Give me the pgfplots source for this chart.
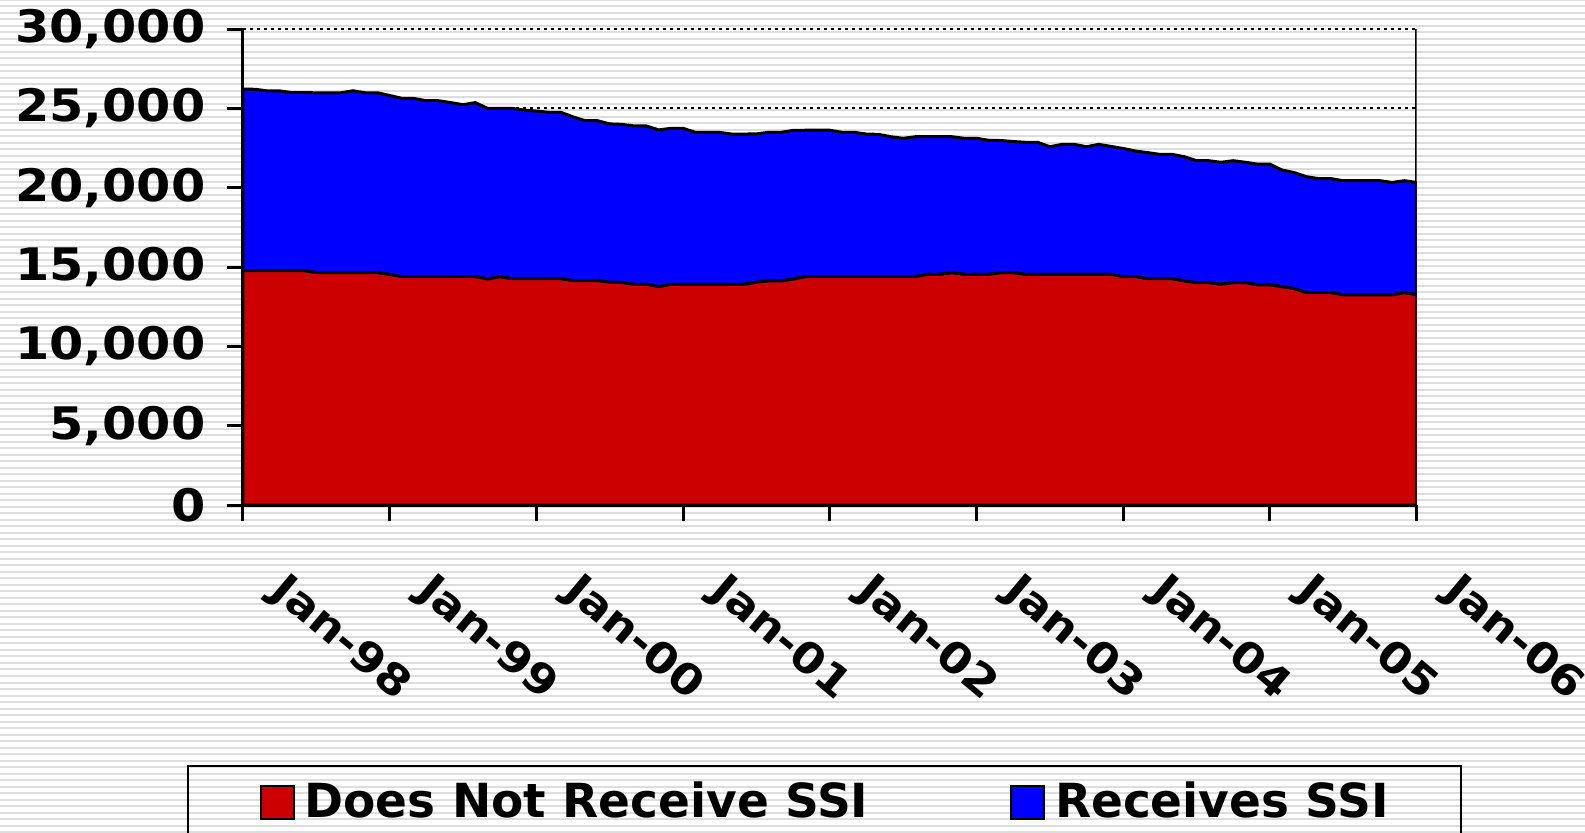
\documentclass[border=0pt]{standalone}
\usepackage{fontspec}
\usepackage{pgfplots}
\pgfplotsset{compat=1.18}
\usepackage{pgfplotstable}
\newfontfamily\tickfont{DejaVu Sans}[FakeStretch=1.1]
\newfontfamily\legfont{DejaVu Sans}
\definecolor{nossi}{HTML}{CC0000}
\definecolor{ssi}{HTML}{0000FF}
\definecolor{stripe}{HTML}{DDDDDD}

% monthly caseload, Jan-98 (m=0) to Jan-06 (m=96)
\pgfplotstableread{
m nossi ssi
0 14770 11450
1 14770 11430
2 14770 11330
3 14770 11330
4 14770 11220
5 14770 11220
6 14640 11340
7 14640 11340
8 14640 11340
9 14640 11470
10 14640 11340
11 14640 11340
12 14530 11280
13 14390 11240
14 14390 11230
15 14390 11090
16 14390 11090
17 14390 10970
18 14390 10840
19 14390 10970
20 14240 10760
21 14390 10610
22 14260 10740
23 14260 10630
24 14260 10570
25 14260 10490
26 14260 10490
27 14140 10320
28 14140 10080
29 14140 10080
30 14040 9980
31 14020 9970
32 13910 9980
33 13910 9980
34 13760 9880
35 13910 9830
36 13910 9830
37 13910 9580
38 13910 9580
39 13910 9570
40 13910 9470
41 13910 9470
42 14040 9350
43 14120 9370
44 14120 9370
45 14240 9370
46 14390 9230
47 14390 9230
48 14390 9230
49 14390 9100
50 14390 9100
51 14390 8990
52 14390 8970
53 14390 8820
54 14390 8720
55 14390 8820
56 14540 8670
57 14540 8670
58 14640 8570
59 14540 8570
60 14540 8570
61 14540 8450
62 14640 8330
63 14640 8270
64 14540 8320
65 14540 8320
66 14540 8040
67 14540 8190
68 14540 8190
69 14540 8040
70 14540 8190
71 14540 8060
72 14390 8080
73 14390 7920
74 14260 7950
75 14260 7840
76 14260 7840
77 14120 7830
78 14010 7690
79 14010 7690
80 13910 7690
81 14010 7690
82 14010 7590
83 13870 7610
84 13870 7610
85 13760 7350
86 13630 7320
87 13380 7310
88 13380 7190
89 13380 7190
90 13250 7190
91 13250 7190
92 13250 7190
93 13250 7190
94 13250 7080
95 13380 7060
96 13250 7080
}\ssidata

\begin{document}
\begin{tikzpicture}
\useasboundingbox (0,0) rectangle (396.25pt,-208.25pt);
% striped slide background
\foreach \i in {0,...,128}
  \draw[stripe, line width=0.5pt] (0pt,{-\i*1.625pt}) -- (396.25pt,{-\i*1.625pt});
\begin{axis}[
    at={(60.75pt,-126.25pt)}, anchor=south west,
    scale only axis, width=293.4pt, height=119pt,
    xmin=0, xmax=96, ymin=0, ymax=30000,
    stack plots=y,
    axis x line*=bottom, axis y line*=left,
    axis line style={line width=0.75pt, -},
    tick align=outside, major tick length=4pt,
    every tick/.style={black, line width=0.75pt},
    xtick pos=left, ytick pos=left,
    xtick={0,12,...,96},
    xticklabels={Jan-98,Jan-99,Jan-00,Jan-01,Jan-02,Jan-03,Jan-04,Jan-05,Jan-06},
    ytick={0,5000,...,30000},
    scaled y ticks=false,
    /pgf/number format/assume math mode=true,
    yticklabel style={font=\tickfont\bfseries\fontsize{11.2}{13}\selectfont,
      anchor=east, inner sep=0pt, xshift=-5.2pt},
    xticklabel style={font=\tickfont\bfseries\fontsize{10.6}{13}\selectfont,
      xshift=11.5pt, yshift=-12pt, rotate=-40, anchor=north west, inner sep=0pt},
    ymajorgrids,
    grid style={black, line width=0.5pt, dash pattern=on 0.75pt off 1pt},
    legend columns=2,
    legend cell align=left,
    legend image code/.code={\draw[#1, line width=0.5pt] (0pt,-4.1pt) rectangle (8.25pt,4.1pt);},
    legend style={at={(-0.0477,-0.546)}, anchor=north west,
      draw=black, line width=0.5pt, fill=none,
      inner xsep=18pt, inner ysep=4pt,
      font=\legfont\bfseries\fontsize{11.75}{14}\selectfont,
      nodes={inner sep=0pt},
      /tikz/every odd column/.append style={column sep=2.4pt},
      /tikz/every even column/.append style={column sep=35.5pt}},
  ]
  \addplot[fill=nossi, draw=black, line width=0.75pt] table[x=m, y=nossi] {\ssidata} \closedcycle;
  \addlegendentry{Does Not Receive SSI}
  \addplot[fill=ssi, draw=black, line width=0.75pt] table[x=m, y=ssi] {\ssidata} \closedcycle;
  \addlegendentry{Receives SSI}
  \draw[black, line width=0.75pt] (rel axis cs:1,0) -- (rel axis cs:1,1);
\end{axis}
\end{tikzpicture}
\end{document}
